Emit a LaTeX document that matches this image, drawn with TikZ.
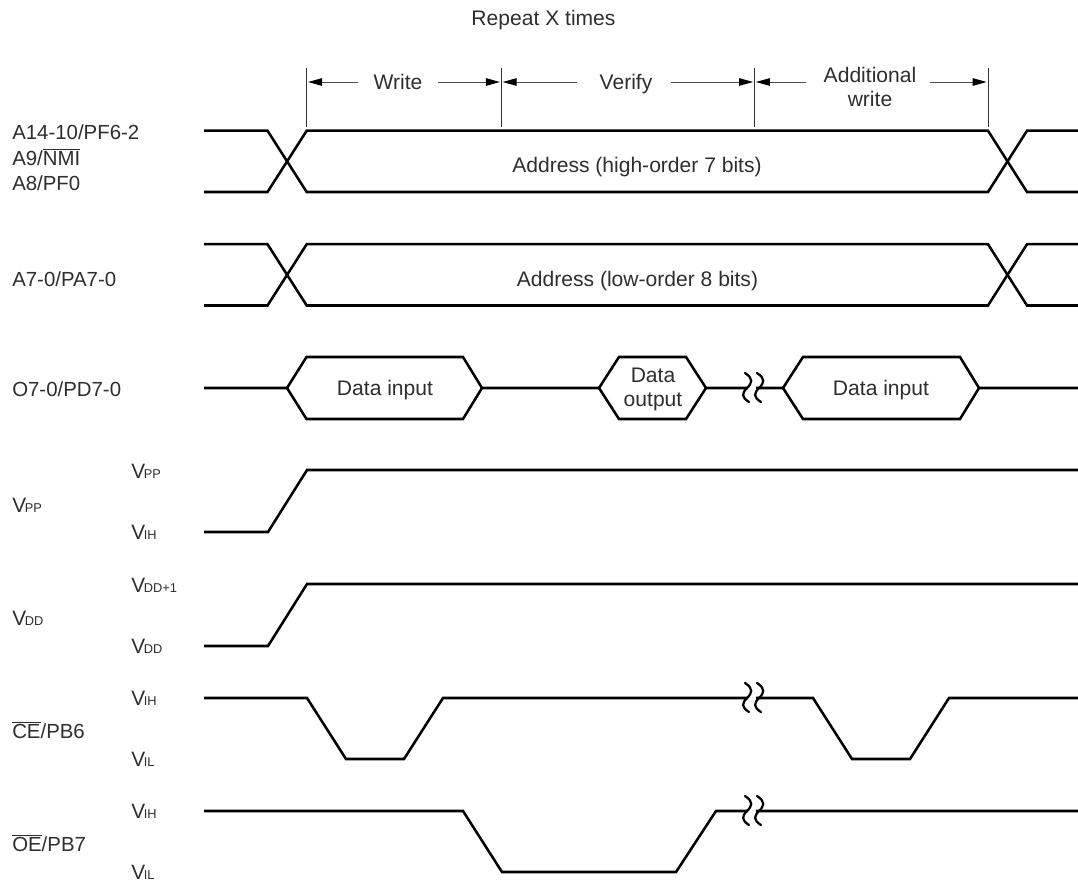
\documentclass[tikz,border=0pt]{standalone}
\usepackage{fontspec}
\setmainfont{Liberation Sans}
\usetikzlibrary{arrows.meta}
\newcommand{\ovl}[1]{$\overline{\hbox{#1}}$}
\newcommand{\vsub}[1]{{\fontsize{15.6pt}{18pt}\selectfont V}\kern-1pt{\fontsize{9.6pt}{10pt}\selectfont\raisebox{-0.6pt}{#1}}}
\tikzset{
  sig/.style={line width=1.9pt,line join=miter,black},
  thin line/.style={line width=0.75pt,draw=black!80},
  dimline/.style={line width=0.75pt,draw=black!70,-{Triangle[length=10.5pt,width=5.6pt,black]}},
  lbl/.style={inner sep=0pt,anchor=base,text=black!82,font=\fontsize{15.8pt}{18pt}\selectfont},
  leftlbl/.style={lbl,anchor=base west,font=\fontsize{15.3pt}{18pt}\selectfont},
  brk/.style={line width=1.7pt,black,line cap=round},
  gapfill/.style={fill=white,draw=none},
}
\begin{document}
\begin{tikzpicture}[x=0.75pt,y=-0.75pt]
\useasboundingbox (0,0) rectangle (1078,882);
% labels
\node[lbl] (rep) at (543.5,25) {Repeat X times};
\node[lbl] (wr) at (398,89) {Write};
\node[lbl] (ve) at (626,89) {Verify};
\node[lbl,align=center] (ad) at (870,106) {Additional\\write};
\node[leftlbl] (l1) at (12,139) {A14-10/PF6-2};
\node[leftlbl] (l2) at (12,165) {A9/\ovl{NMI}};
\node[leftlbl] (l3) at (12,190) {A8/PF0};
\node[leftlbl] (l4) at (12,286) {A7-0/PA7-0};
\node[leftlbl] (l5) at (12,396) {O7-0/PD7-0};
\node[leftlbl] (l6) at (12,512) {\vsub{PP}};
\node[leftlbl] (l7) at (12,625) {\vsub{DD}};
\node[leftlbl] (l8) at (12,738) {\ovl{CE}/PB6};
\node[leftlbl] (l9) at (12,851) {\ovl{OE}/PB7};
\node[leftlbl] (v1) at (131,478) {\vsub{PP}};
\node[leftlbl] (v2) at (131,539) {\vsub{IH}};
\node[leftlbl] (v3) at (131,592) {\vsub{DD+1}};
\node[leftlbl] (v4) at (131,653) {\vsub{DD}};
\node[leftlbl] (v5) at (131,705) {\vsub{IH}};
\node[leftlbl] (v6) at (131,766) {\vsub{IL}};
\node[leftlbl] (v7) at (131,818) {\vsub{IH}};
\node[leftlbl] (v8) at (131,879) {\vsub{IL}};
\node[lbl] (a1) at (637,172) {Address (high-order 7 bits)};
\node[lbl] (a2) at (637.5,286) {Address (low-order 8 bits)};
\node[lbl] (d1) at (385,395) {Data input};
\node[lbl,align=center] (d2) at (653,406) {Data\\output};
\node[lbl] (d3) at (881,395) {Data input};
% extension lines
\foreach \n/\x in {a/306.7,b/501.3,c/754.5,d/988}{
  \coordinate (e\n t) at (\x,68);
  \coordinate (e\n b) at (\x,127);
  \coordinate (e\n m) at (\x,82);
  \draw[thin line] (e\n t) -- (e\n b);
}
% dimension arrows
\coordinate (w1) at (358,82); \coordinate (w2) at (438,82);
\coordinate (f1) at (577,82); \coordinate (f2) at (671,82);
\coordinate (g1) at (806,82); \coordinate (g2) at (930,82);
\draw[dimline] (w1) -- ([xshift=1pt]eam);
\draw[dimline] (w2) -- ([xshift=-1pt]ebm);
\draw[dimline] (f1) -- ([xshift=1pt]ebm);
\draw[dimline] (f2) -- ([xshift=-1pt]ecm);
\draw[dimline] (g1) -- ([xshift=1pt]ecm);
\draw[dimline] (g2) -- ([xshift=-1pt]edm);
% address buses
\foreach \n/\t/\b in {p/130.7/192,q/244.2/305.5}{
  \draw[sig] (204,\t) -- (267.5,\t) -- (306.7,\b) -- (988,\b) -- (1027,\t) -- (1078,\t);
  \draw[sig] (204,\b) -- (267.5,\b) -- (306.7,\t) -- (988,\t) -- (1027,\b) -- (1078,\b);
}
% data
\draw[sig] (204,388) -- (287,388) -- (306.5,357) -- (463,357) -- (482,388) -- (599,388)
  -- (619,357) -- (686,357) -- (706,388) -- (783,388) -- (803,357) -- (960,357) -- (979,388) -- (1078,388);
\draw[sig] (287,388) -- (306.5,419) -- (463,419) -- (482,388);
\draw[sig] (599,388) -- (619,419) -- (686,419) -- (706,388);
\draw[sig] (783,388) -- (803,419) -- (960,419) -- (979,388);
% supplies
\draw[sig] (204,532) -- (268,532) -- (307,470) -- (1078,470);
\draw[sig] (204,646) -- (268,646) -- (307,584) -- (1078,584);
% CE, OE
\draw[sig] (204,698) -- (307,698) -- (346,759) -- (404,759) -- (443,698) -- (813,698) -- (852,759) -- (910,759) -- (949,698) -- (1078,698);
\draw[sig] (204,811) -- (463,811) -- (502,872) -- (676,872) -- (716,811) -- (1078,811);
% breaks
\foreach \y in {388,698,811}{
  \fill[gapfill] (748,\y-4) rectangle (756,\y+4);
  \foreach \dx in {0,12}{
    \draw[brk,xshift=\dx*0.75pt] (745,\y-15) .. controls (754,\y-9) and (752,\y-5) .. (747,\y)
       .. controls (742,\y+5) and (741,\y+9) .. (749,\y+14);
  }
}
\end{tikzpicture}
\end{document}
